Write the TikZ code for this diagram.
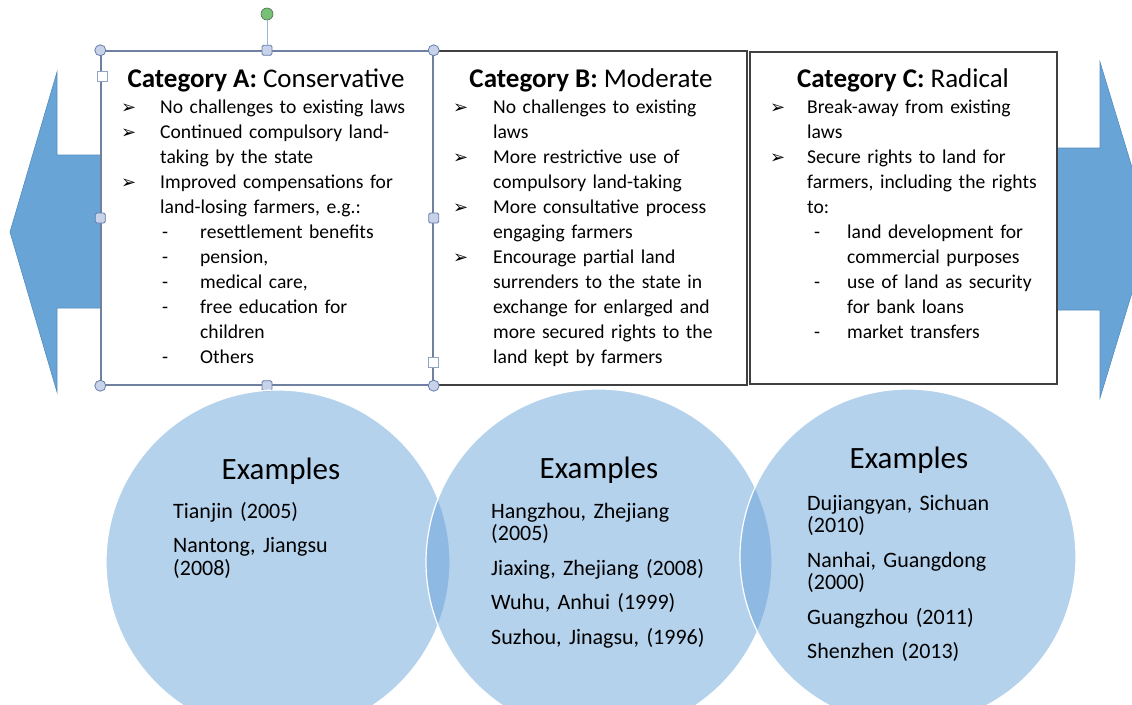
\documentclass[tikz,border=0pt]{standalone}
\usepackage{fontspec}
\setmainfont{Carlito}
\newfontfamily\arrfont{DejaVu Sans}

\definecolor{arrowblue}{RGB}{104,165,214}
\definecolor{arrowedge}{RGB}{84,140,190}
\definecolor{circblue}{RGB}{91,155,213}
\definecolor{selgrey}{RGB}{112,128,160}
\definecolor{handlefill}{RGB}{200,211,234}
\definecolor{handleedge}{RGB}{100,125,172}
\definecolor{rotline}{RGB}{150,182,232}
\definecolor{rotgreen}{RGB}{120,192,120}

% list helpers: bullet item, continuation line, dash sub-item
\newcommand{\itm}[2]{\makebox[#1][l]{\arrfont\bfseries\fontsize{18}{18}\selectfont ➢}#2}
\newcommand{\contl}[2]{\hspace*{#1}#2}
\newcommand{\subitm}[3]{\hspace*{#1}\makebox[#2][l]{-}#3}

\tikzset{
  catbox/.style={draw=black!75, line width=1.4pt, fill=white, inner sep=0pt},
  cattitle/.style={anchor=base, inner sep=0pt, font=\fontsize{27}{30}\selectfont},
  catlist/.style={anchor=base west, inner sep=0pt, text width=320pt, align=left,
    font=\fontsize{19.6}{25}\selectfont},
  excirc/.style={circle, fill=circblue, fill opacity=0.45, draw=white, line width=1.2pt, inner sep=0pt},
  extitle/.style={anchor=base, inner sep=0pt, font=\fontsize{31}{31}\selectfont},
  exlist/.style={anchor=base west, inner sep=0pt, text width=250pt, align=left,
    font=\fontsize{22}{22.5}\selectfont},
  hround/.style={circle, fill=handlefill, draw=handleedge, line width=0.8pt, minimum size=11pt, inner sep=0pt},
  hsquare/.style={rectangle, rounded corners=1.5pt, fill=handlefill, draw=handleedge, line width=0.8pt, minimum size=10pt, inner sep=0pt},
  hbox/.style={rectangle, fill=white, draw=handleedge!70, line width=0.8pt, minimum size=10pt, inner sep=0pt},
}

\begin{document}
\begin{tikzpicture}[x=1pt, y=-1pt]
  \useasboundingbox (0,0) rectangle (1132,704);
  \clip (0,0) rectangle (1132,704);

  % big arrows behind the boxes
  \filldraw[fill=arrowblue, draw=arrowedge, line width=0.6pt]
    (105,155) -- (57,155) -- (57,72) -- (10,232) -- (57,392) -- (57,308) -- (105,308) -- cycle;
  \filldraw[fill=arrowblue, draw=arrowedge, line width=0.6pt]
    (1052,148) -- (1100,148) -- (1100,62) -- (1151,230) -- (1100,398) -- (1100,310) -- (1052,310) -- cycle;

  % category boxes
  \node[catbox, minimum width=314pt, minimum height=334pt] (boxB) at (590,218) {};
  \node[catbox, minimum width=307pt, minimum height=332pt] (boxC) at (903.5,218) {};
  \node[catbox, draw=selgrey, minimum width=332pt, minimum height=334pt] (boxA) at (267,218) {};

  \node[cattitle] (tA) at (266,87) {\textbf{Category A:} Conservative};
  \node[cattitle] (tB) at (591,87) {\textbf{Category B:} Moderate};
  \node[cattitle] (tC) at (903,87) {\textbf{Category C:} Radical};

  \node[catlist] (lA) at (121,113) {%
    \itm{39pt}{No challenges to existing laws}\\
    \itm{39pt}{Continued compulsory land-}\\
    \contl{39pt}{taking by the state}\\
    \itm{39pt}{Improved compensations for}\\
    \contl{39pt}{land-losing farmers, e.g.:}\\
    \subitm{41pt}{38pt}{resettlement benefits}\\
    \subitm{41pt}{38pt}{pension,}\\
    \subitm{41pt}{38pt}{medical care,}\\
    \subitm{41pt}{38pt}{free education for}\\
    \contl{79pt}{children}\\
    \subitm{41pt}{38pt}{Others}};
  \node[catlist] (lB) at (453,113) {%
    \itm{40pt}{No challenges to existing}\\
    \contl{40pt}{laws}\\
    \itm{40pt}{More restrictive use of}\\
    \contl{40pt}{compulsory land-taking}\\
    \itm{40pt}{More consultative process}\\
    \contl{40pt}{engaging farmers}\\
    \itm{40pt}{Encourage partial land}\\
    \contl{40pt}{surrenders to the state in}\\
    \contl{40pt}{exchange for enlarged and}\\
    \contl{40pt}{more secured rights to the}\\
    \contl{40pt}{land kept by farmers}};
  \node[catlist] (lC) at (770,113) {%
    \itm{37pt}{Break-away from existing}\\
    \contl{37pt}{laws}\\
    \itm{37pt}{Secure rights to land for}\\
    \contl{37pt}{farmers, including the rights}\\
    \contl{37pt}{to:}\\
    \subitm{44pt}{33pt}{land development for}\\
    \contl{77pt}{commercial purposes}\\
    \subitm{44pt}{33pt}{use of land as security}\\
    \contl{77pt}{for bank loans}\\
    \subitm{44pt}{33pt}{market transfers}};

  % selection handles round box A
  \foreach \a/\n in {north west/nw, north east/ne, south west/sw, south east/se}
    \node[hround] (h\n) at (boxA.\a) {};
  \foreach \a/\n in {north/n, south/s, west/w, east/e}
    \node[hsquare] (h\n) at (boxA.\a) {};
  \node[hbox] (tbtop) at (102,76) {};
  \node[hbox] (tbbot) at (433,362) {};
  \node[circle, fill=rotgreen, draw=rotgreen!60!black, line width=0.6pt, minimum size=12pt, inner sep=0pt] (hrot) at (267,14) {};
  \draw[rotline, line width=0.9pt] (hrot) -- (hn);

  % example circles
  \node[excirc, minimum size=344pt] (cA) at (278,562) {};
  \node[excirc, minimum size=346pt] (cB) at (599,562) {};
  \node[excirc, minimum size=336pt] (cC) at (908,557) {};

  \node[extitle] (eA) at (281,479) {Examples};
  \node[extitle] (eB) at (599,478) {Examples};
  \node[extitle] (eC) at (909,468) {Examples};

  \node[exlist] (xA) at (173,518) {Tianjin (2005)\\[12pt] Nantong, Jiangsu\\(2008)};
  \node[exlist] (xB) at (491,518) {Hangzhou, Zhejiang\\(2005)\\[12pt] Jiaxing, Zhejiang (2008)\\[12pt]
    Wuhu, Anhui (1999)\\[12pt] Suzhou, Jinagsu, (1996)};
  \node[exlist] (xC) at (807,510) {Dujiangyan, Sichuan\\(2010)\\[12pt] Nanhai, Guangdong\\(2000)\\[12pt]
    Guangzhou (2011)\\[12pt] Shenzhen (2013)};
\end{tikzpicture}
\end{document}
